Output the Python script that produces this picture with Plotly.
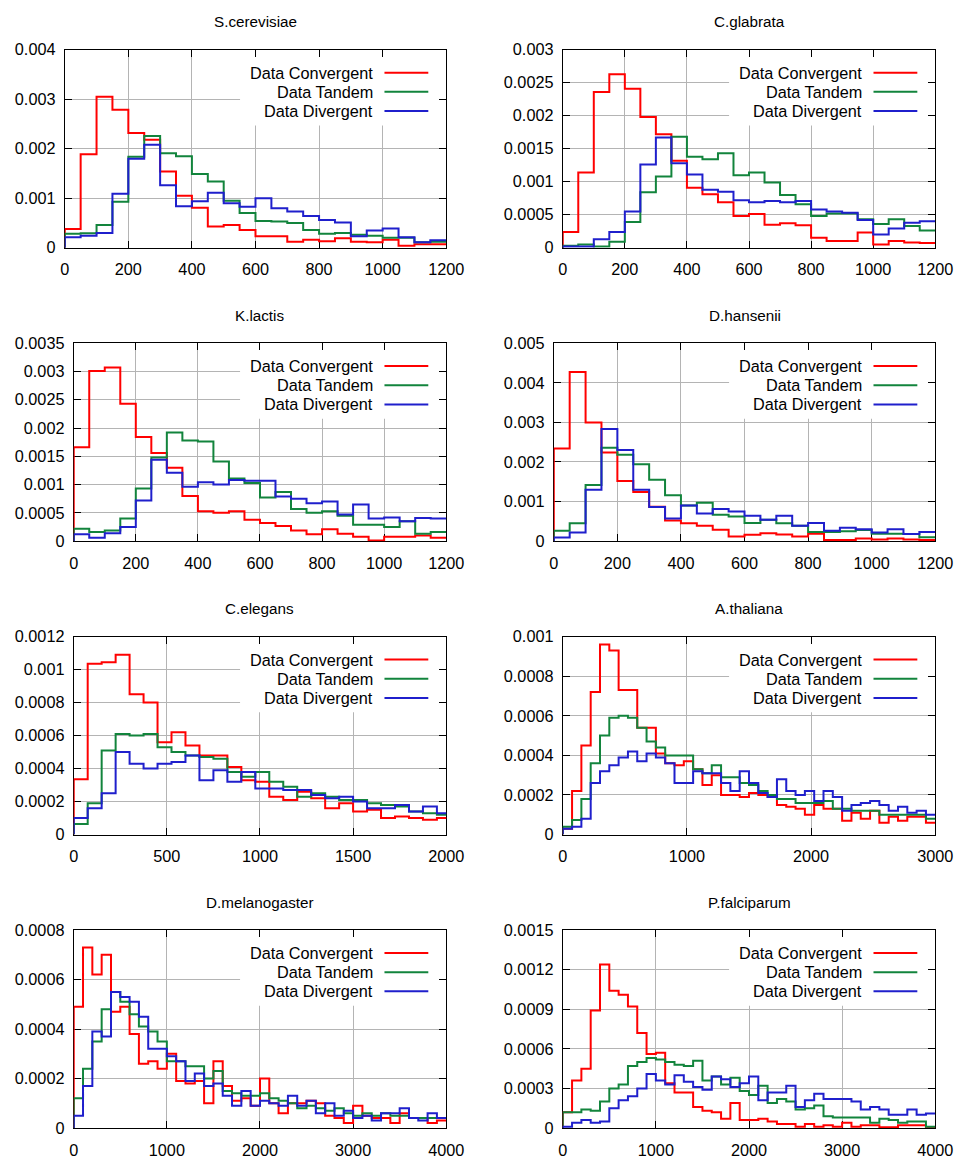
import numpy as np
import plotly.graph_objects as go

W, H = 961, 1159

titles = ["S.cerevisiae", "C.glabrata", "K.lactis", "D.hansenii",
          "C.elegans", "A.thaliana", "D.melanogaster", "P.falciparum"]
series_names = ["Data Convergent", "Data Tandem", "Data Divergent"]
bin_width = [50, 50, 50, 50, 75, 75, 100, 100]
x_max = [1200, 1200, 1200, 1200, 2000, 3000, 4000, 4000]
y_max = [0.004, 0.003, 0.0035, 0.005, 0.0012, 0.001, 0.0008, 0.0015]

x_tick_labels = [
    ["0", "200", "400", "600", "800", "1000", "1200"],
    ["0", "200", "400", "600", "800", "1000", "1200"],
    ["0", "200", "400", "600", "800", "1000", "1200"],
    ["0", "200", "400", "600", "800", "1000", "1200"],
    ["0", "500", "1000", "1500", "2000"],
    ["0", "1000", "2000", "3000"],
    ["0", "1000", "2000", "3000", "4000"],
    ["0", "1000", "2000", "3000", "4000"],
]
y_tick_labels = [
    ["0", "0.001", "0.002", "0.003", "0.004"],
    ["0", "0.0005", "0.001", "0.0015", "0.002", "0.0025", "0.003"],
    ["0", "0.0005", "0.001", "0.0015", "0.002", "0.0025", "0.003", "0.0035"],
    ["0", "0.001", "0.002", "0.003", "0.004", "0.005"],
    ["0", "0.0002", "0.0004", "0.0006", "0.0008", "0.001", "0.0012"],
    ["0", "0.0002", "0.0004", "0.0006", "0.0008", "0.001"],
    ["0", "0.0002", "0.0004", "0.0006", "0.0008"],
    ["0", "0.0003", "0.0006", "0.0009", "0.0012", "0.0015"],
]

# ---- S.cerevisiae (bin 50)
scer_conv = [0.00038, 0.00189, 0.00305, 0.00279, 0.00232, 0.00218, 0.00154, 0.00105, 0.00081, 0.00043,
             0.00046, 0.00036, 0.00023, 0.00023, 0.00012, 0.00016, 0.00013, 0.00019, 0.00012, 0.00011,
             0.00016, 0.00004, 0.00007, 0.00007]
scer_tand = [0.00028, 0.00029, 0.00046, 0.00093, 0.00184, 0.00226, 0.00191, 0.00185, 0.00149, 0.00134,
             0.00095, 0.00070, 0.00054, 0.00053, 0.00050, 0.00036, 0.00028, 0.00030, 0.00026, 0.00024,
             0.00020, 0.00020, 0.00011, 0.00012]
scer_div = [0.00021, 0.00024, 0.00030, 0.00109, 0.00180, 0.00208, 0.00126, 0.00084, 0.00094, 0.00111,
            0.00090, 0.00083, 0.00100, 0.00080, 0.00073, 0.00064, 0.00056, 0.00051, 0.00023, 0.00035,
            0.00039, 0.00021, 0.00011, 0.00015]

# ---- C.glabrata (bin 50)
cgla_conv = [0.00024, 0.00114, 0.00236, 0.00263, 0.00241, 0.00198, 0.00172, 0.00132, 0.00091, 0.00081,
             0.00069, 0.00048, 0.00051, 0.00035, 0.00037, 0.00034, 0.00015, 0.00010, 0.00010, 0.00023,
             0.00005, 0.00010, 0.00008, 0.00007]
cgla_tand = [0.00003, 0.00005, 0.00002, 0.00009, 0.00039, 0.00084, 0.00108, 0.00168, 0.00138, 0.00134,
             0.00143, 0.00110, 0.00114, 0.00099, 0.00080, 0.00066, 0.00048, 0.00052, 0.00052, 0.00043,
             0.00036, 0.00043, 0.00033, 0.00026]
cgla_div = [0.00002, 0.00002, 0.00013, 0.00024, 0.00055, 0.00126, 0.00167, 0.00128, 0.00111, 0.00088,
            0.00085, 0.00072, 0.00069, 0.00071, 0.00069, 0.00071, 0.00058, 0.00055, 0.00053, 0.00042,
            0.00020, 0.00029, 0.00038, 0.00040]

# ---- K.lactis (bin 50)
klac_conv = [0.00166, 0.00301, 0.00307, 0.00243, 0.00184, 0.00156, 0.00130, 0.00080, 0.00053, 0.00050,
             0.00053, 0.00038, 0.00032, 0.00027, 0.00019, 0.00012, 0.00021, 0.00013, 0.00008, 0.00001,
             0.00008, 0.00008, 0.00010, 0.00006]
klac_tand = [0.00022, 0.00016, 0.00019, 0.00040, 0.00093, 0.00148, 0.00192, 0.00178, 0.00176, 0.00141,
             0.00111, 0.00103, 0.00077, 0.00087, 0.00057, 0.00050, 0.00053, 0.00045, 0.00029, 0.00029,
             0.00025, 0.00035, 0.00013, 0.00016]
klac_div = [0.00012, 0.00006, 0.00014, 0.00025, 0.00072, 0.00144, 0.00121, 0.00096, 0.00104, 0.00100,
            0.00108, 0.00107, 0.00107, 0.00079, 0.00075, 0.00067, 0.00070, 0.00047, 0.00065, 0.00040,
            0.00042, 0.00035, 0.00041, 0.00040]

# ---- D.hansenii (bin 50)
dhan_conv = [0.00234, 0.00427, 0.00300, 0.00224, 0.00152, 0.00124, 0.00087, 0.00052, 0.00045, 0.00039,
             0.00029, 0.00012, 0.00016, 0.00020, 0.00017, 0.00012, 0.00019, 0.00003, 0.00003, 0.00007,
             0.00004, 0.00007, 0.00004, 0.00003]
dhan_tand = [0.00026, 0.00045, 0.00142, 0.00236, 0.00218, 0.00194, 0.00155, 0.00116, 0.00090, 0.00097,
             0.00067, 0.00062, 0.00046, 0.00054, 0.00045, 0.00039, 0.00023, 0.00023, 0.00025, 0.00028,
             0.00019, 0.00019, 0.00018, 0.00010]
dhan_div = [0.00009, 0.00022, 0.00130, 0.00283, 0.00230, 0.00130, 0.00086, 0.00057, 0.00090, 0.00070,
            0.00081, 0.00075, 0.00064, 0.00054, 0.00064, 0.00039, 0.00046, 0.00026, 0.00034, 0.00030,
            0.00022, 0.00030, 0.00018, 0.00023]

# ---- C.elegans (bin 75)
cele_conv = [0.000336, 0.001035, 0.001045, 0.00109, 0.00085, 0.00080, 0.00056, 0.00062, 0.00054, 0.00048,
             0.00048, 0.00041, 0.00033, 0.00032, 0.00023, 0.00021, 0.00026, 0.00022, 0.00016, 0.00019,
             0.00014, 0.00015, 0.00010, 0.00011, 0.00010, 0.00009, 0.00010]
cele_tand = [0.000064, 0.00019, 0.00051, 0.00061, 0.00060, 0.00061, 0.00053, 0.00050, 0.00048, 0.00047,
             0.00046, 0.00038, 0.00035, 0.00038, 0.00032, 0.00029, 0.00023, 0.00025, 0.00023, 0.00021,
             0.00021, 0.00019, 0.00018, 0.00017, 0.00014, 0.00013, 0.00012]
cele_div = [0.00010, 0.00016, 0.00025, 0.00050, 0.00043, 0.00040, 0.00043, 0.00044, 0.00048, 0.00033,
            0.00039, 0.00032, 0.00038, 0.00028, 0.00028, 0.00027, 0.00027, 0.00024, 0.00022, 0.00023,
            0.00020, 0.00016, 0.00016, 0.00018, 0.00014, 0.00017, 0.00013]

# ---- A.thaliana (bin 75)
atha_conv = [0.00003, 0.00022, 0.00045, 0.00072, 0.00096, 0.00093, 0.00073, 0.00073, 0.00054, 0.00054,
             0.00041, 0.00036, 0.00035, 0.00037, 0.00033, 0.00025, 0.00030, 0.00020, 0.00020, 0.00019,
             0.00021, 0.00020, 0.00019, 0.00015, 0.00014, 0.00013, 0.00010, 0.00015, 0.00013, 0.00013,
             0.00007, 0.00011, 0.00008, 0.00012, 0.00006, 0.00009, 0.00007, 0.00009, 0.00009, 0.00006]
atha_tand = [0.00004, 0.000074, 0.00018, 0.00036, 0.00050, 0.00059, 0.00060, 0.00059, 0.00054, 0.00047,
             0.00044, 0.00040, 0.00040, 0.00040, 0.00033, 0.00031, 0.00035, 0.00029, 0.00029, 0.00026,
             0.00025, 0.00022, 0.00020, 0.00018, 0.00018, 0.00016, 0.00016, 0.00016, 0.00017, 0.00013,
             0.00013, 0.00012, 0.00012, 0.00012, 0.00010, 0.00010, 0.00010, 0.00010, 0.00010, 0.00008]
atha_div = [0.00003, 0.00004, 0.00008, 0.00026, 0.00032, 0.00035, 0.00039, 0.00042, 0.00037, 0.00041,
            0.00039, 0.00036, 0.00026, 0.00026, 0.00032, 0.00031, 0.00031, 0.00026, 0.00022, 0.00032,
            0.00026, 0.00021, 0.00019, 0.00028, 0.00022, 0.00020, 0.00022, 0.00017, 0.00022, 0.00019,
            0.00012, 0.00015, 0.00016, 0.00017, 0.00015, 0.00012, 0.00014, 0.00011, 0.00012, 0.00010]

# ---- D.melanogaster (bin 100)
dmel_conv = [0.00049, 0.00073, 0.00062, 0.00070, 0.00047, 0.00049, 0.00038, 0.00026, 0.00027, 0.00024,
             0.00030, 0.00019, 0.00018, 0.00019, 0.00010, 0.00027, 0.00017, 0.00011, 0.00012, 0.00009,
             0.00020, 0.00010, 0.00006, 0.00010, 0.00010, 0.00011, 0.00010, 0.00005, 0.00004, 0.00002,
             0.00009, 0.00005, 0.00004, 0.00004, 0.00002, 0.00006, 0.00004, 0.00004, 0.00002, 0.00003]
dmel_tand = [0.00012, 0.00024, 0.00035, 0.00048, 0.00055, 0.00051, 0.00046, 0.00041, 0.00039, 0.00035,
             0.00027, 0.00027, 0.00025, 0.00025, 0.00020, 0.00023, 0.00015, 0.00014, 0.00013, 0.00013,
             0.00014, 0.00012, 0.00011, 0.00010, 0.00008, 0.00009, 0.00008, 0.00007, 0.00008, 0.00006,
             0.00005, 0.00006, 0.00005, 0.00006, 0.00005, 0.00005, 0.00004, 0.00004, 0.00004, 0.00004]
dmel_div = [0.00005, 0.00017, 0.00039, 0.00037, 0.00055, 0.00053, 0.00051, 0.00045, 0.00032, 0.00032,
            0.00029, 0.00027, 0.00019, 0.00022, 0.00017, 0.00018, 0.00013, 0.00009, 0.00015, 0.00009,
            0.00011, 0.00010, 0.00009, 0.00013, 0.00009, 0.00011, 0.00006, 0.00010, 0.00005, 0.00007,
            0.00004, 0.00005, 0.00003, 0.00006, 0.00006, 0.00008, 0.00004, 0.00003, 0.00006, 0.00004]

# ---- P.falciparum (bin 100)
pfal_conv = [0.00012, 0.00036, 0.00045, 0.00089, 0.00124, 0.00104, 0.00101, 0.00092, 0.00072, 0.00056,
             0.00057, 0.00034, 0.00027, 0.00027, 0.00016, 0.00013, 0.00012, 0.00007, 0.00019, 0.00006,
             0.00006, 0.00007, 0.00005, 0.00003, 0.00003, 0.00001, 0.00003, 0.00001, 0.00002, 0.00001,
             0.00004, 0.00001, 0.00002, 0.00002, 0.000005, 0.000005, 0.00002, 0.00002, 0.00002, 0.000005]
pfal_tand = [0.00012, 0.00012, 0.00014, 0.00013, 0.00020, 0.00030, 0.00033, 0.00047, 0.00050, 0.00053,
             0.00052, 0.00050, 0.00048, 0.00047, 0.00051, 0.00036, 0.00039, 0.00033, 0.00038, 0.00028,
             0.00025, 0.00032, 0.00019, 0.00022, 0.00020, 0.00014, 0.00015, 0.00017, 0.00009, 0.00008,
             0.00008, 0.00008, 0.00008, 0.00004, 0.00007, 0.00006, 0.00004, 0.00005, 0.00005, 0.00001]
pfal_div = [0.00001, 0.00004, 0.00006, 0.00004, 0.00005, 0.00015, 0.00021, 0.00024, 0.00030, 0.00041,
            0.00036, 0.00033, 0.00040, 0.00035, 0.00031, 0.00029, 0.00039, 0.00037, 0.00031, 0.00034,
            0.00039, 0.00021, 0.00027, 0.00027, 0.00032, 0.00016, 0.00021, 0.00026, 0.00022, 0.00022,
            0.00022, 0.00020, 0.00014, 0.00016, 0.00014, 0.00010, 0.00010, 0.00014, 0.00010, 0.00011]

panel_series = [
    [scer_conv, scer_tand, scer_div],
    [cgla_conv, cgla_tand, cgla_div],
    [klac_conv, klac_tand, klac_div],
    [dhan_conv, dhan_tand, dhan_div],
    [cele_conv, cele_tand, cele_div],
    [atha_conv, atha_tand, atha_div],
    [dmel_conv, dmel_tand, dmel_div],
    [pfal_conv, pfal_tand, pfal_div],
]

# ---------------- layout / style ----------------
colors = ["#ff0000", "#12843c", "#1f1fcc"]
FONT = "Liberation Sans, Arial, Helvetica, sans-serif"
# plot-area boxes in screen pixels: left, right, top, bottom
boxes = [
    (62, 445, 48, 247), (562, 936, 48, 247),
    (71, 445, 343, 542), (553, 936, 343, 542),
    (71, 445, 638, 837), (562, 936, 638, 837),
    (71, 445, 933, 1132), (562, 936, 933, 1132),
]
# measured mapping from figure pixels to the photographed picture
SX, OX = 0.980, 2.0
SY, OY = 0.988, 7.0
FS = 1 / 0.984  # font compensation for that mapping


def px(x):
    return ((x - OX) / SX) / W


def py(y):
    return 1 - ((y - OY) / SY) / H


fig = go.Figure()
layout = dict(width=W, height=H, margin=dict(l=0, r=0, t=0, b=0),
              paper_bgcolor="white", plot_bgcolor="white", showlegend=False,
              font=dict(family=FONT, size=16 * FS, color="black"))
annotations = []
shapes = []

for i in range(8):
    L, R, T, B = boxes[i]
    ax = "" if i == 0 else str(i + 1)
    xref, yref = "x" + ax, "y" + ax
    bw = bin_width[i]
    for s, vals in enumerate(panel_series[i]):
        n = len(vals)
        xs = np.concatenate([[0.0], np.arange(n) * bw, [n * bw]])
        ys = np.concatenate([[0.0], vals, [vals[-1]]])
        fig.add_trace(go.Scatter(x=xs, y=ys, mode="lines", line_shape="hv",
                                 line=dict(color=colors[s], width=2),
                                 name=series_names[s], xaxis=xref, yaxis=yref,
                                 hoverinfo="skip"))
    xt = [float(v) for v in x_tick_labels[i]]
    yt = [float(v) for v in y_tick_labels[i]]
    common = dict(showline=True, linecolor="black", linewidth=1, mirror="ticks",
                  ticks="inside", ticklen=7, tickcolor="black", tickwidth=1,
                  showgrid=True, gridcolor="#b4b4b4", gridwidth=1, zeroline=False,
                  layer="below traces", tickfont=dict(family=FONT, size=16 * FS, color="black"))
    layout["xaxis" + ax] = dict(domain=[px(L), px(R)], range=[0, x_max[i]], anchor=yref,
                                tickvals=xt, ticktext=x_tick_labels[i], ticklabelstandoff=7, **common)
    layout["yaxis" + ax] = dict(domain=[py(B), py(T)], range=[0, y_max[i]], anchor=xref,
                                tickvals=yt, ticktext=y_tick_labels[i], ticklabelstandoff=5, **common)
    annotations.append(dict(x=px((L + R) / 2), y=py(T - 28), xref="paper", yref="paper",
                            text=titles[i], showarrow=False, xanchor="center", yanchor="middle",
                            font=dict(family=FONT, size=15 * FS, color="black")))
    fx = 1 - 207 / (R - L)
    fy = 1 - 76 / (B - T)
    shapes.append(dict(type="rect", xref=xref, yref=yref,
                       x0=fx * x_max[i], x1=x_max[i], y0=fy * y_max[i], y1=y_max[i],
                       fillcolor="white", line=dict(width=0), layer="between"))
    for s in range(3):
        yy = T + 23 + 19.3 * s
        annotations.append(dict(x=px(R - 72), y=py(yy), xref="paper", yref="paper",
                                text=series_names[s], showarrow=False, xanchor="right",
                                yanchor="middle",
                                font=dict(family=FONT, size=16 * FS, color="black")))
        shapes.append(dict(type="line", xref="paper", yref="paper",
                           x0=px(R - 62), x1=px(R - 18), y0=py(yy), y1=py(yy),
                           line=dict(color=colors[s], width=2), layer="above"))

layout["annotations"] = annotations
layout["shapes"] = shapes
fig.update_layout(**layout)
fig.write_html("out.html", config={"displayModeBar": False},
               post_script="document.documentElement.style.margin='0';document.documentElement.style.padding='0';document.body.style.margin='0';document.body.style.padding='0';document.documentElement.style.overflow='hidden';document.body.style.overflow='hidden';")
